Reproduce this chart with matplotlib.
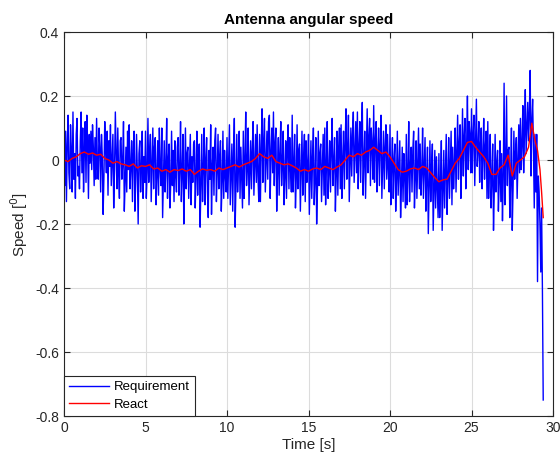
import numpy as np
import matplotlib
matplotlib.use("Agg")
import matplotlib.pyplot as plt

req_step = 0.05
req_cdeg = [
    2, -8, 9, -13, 5, 14, -4, -9, 11, 3, -10, 15, -6, 2, -12, 8, 13, -5, -2, -9,
    6, 15, -4, 10, -10, 3, 12, -7, 14, 5, -12, 8, -1, 9, -3, 11, 4, -8, 7, -6,
    13, -2, -6, 10, 4, -10, 8, 1, -17, -5, 12, 3, -4, 9, -11, 6, -2, 11, -8, 0,
    8, -15, -3, 15, 2, -9, 10, -4, -12, 6, 7, -6, -1, 12, -16, -7, 4, -10, 9, -3,
    11, -9, -2, 6, -13, 3, 9, -16, -6, 8, -4, -20, 2, 6, -10, -3, 9, -12, 1, -7,
    9, -12, -4, 13, -7, 2, 8, -13, -1, 10, -9, 4, 7, -14, -5, 6, -11, 10, -3, -8,
    10, -18, -6, 6, -10, -2, 13, -12, 0, 5, -15, -7, 9, -8, 3, -13, 6, -5, -10, 4,
    7, -11, -3, 12, -13, -4, 8, -20, -6, 10, -9, 2, 4, -12, -2, 8, -14, 1, -7, 5,
    6, -15, -5, 9, -11, 1, 5, -21, -8, 8, -13, -3, 10, -14, 0, 7, -10, -18, 3, -6,
    11, -17, -2, 4, -11, 6, 10, -13, -4, 8, -9, 1, 6, -16, -7, 9, -12, 3, -5, -10,
    7, -12, -1, 11, -14, -5, 5, -16, 2, 13, -21, -8, 8, -10, -3, 9, -12, 4, -6, -15,
    9, -12, 0, 15, -8, -2, 10, -14, -4, 6, -9, 3, 12, -11, -1, 8, -7, 11, -5, -13,
    8, -13, 4, 16, -7, 6, 13, -10, -1, 9, -6, 12, 14, -12, 2, 10, -4, 15, -8, 5,
    10, -16, -3, 7, -11, 2, 12, -8, -1, 9, -14, -5, 6, -12, 4, 11, -9, 7, -3, -10,
    14, -10, -2, 8, -15, -6, 11, -9, 3, 5, -16, -4, 9, -11, 1, 8, -13, 6, -7, -2,
    8, -17, -5, 6, -12, 1, 10, -14, -6, 7, -20, -9, 9, -8, 2, 5, -13, -3, 8, -11,
    10, -14, -2, 12, -12, -4, 6, -10, 3, 13, -8, -1, 7, -16, -5, 9, -11, 4, 10, -9,
    11, -12, 0, 9, -9, 5, 16, -6, 3, 14, -13, -2, 10, -5, 8, 15, -7, 2, 12, -4,
    15, -9, 4, 12, -7, 8, 18, -11, 0, 9, -12, 3, 16, -4, 7, 13, -8, 10, 5, -6,
    17, -7, 6, 12, -10, 2, 10, -8, 5, 14, -12, -1, 9, -9, 4, 11, -6, 8, -3, -10,
    11, -14, -2, 7, -12, 0, 5, -16, -6, 9, -11, -3, 6, -18, -8, 4, -13, 2, -5, -15,
    8, -14, -4, 12, -13, -2, 4, -10, 3, 9, -15, -6, 6, -12, -1, 10, -9, 5, -11, -4,
    10, -12, -3, 7, -16, -5, 4, -23, -9, 6, -13, -2, 5, -22, -10, 3, -15, 1, -8, -18,
    2, -18, -7, 6, -22, -10, 3, -15, -4, 8, -17, -6, 7, -12, -1, 9, -14, 4, -9, -2,
    10, -10, 2, 14, -6, 5, 11, -12, 0, 16, -5, 7, 13, -9, 4, 20, -3, 12, 8, -4,
    16, -4, 8, 14, -8, 6, 19, -2, 3, 12, -7, 5, 10, -9, 1, 13, -6, 4, 9, -12,
    12, -12, -3, 8, -15, -6, 5, -22, -9, 8, -10, -1, 3, -16, -7, 6, -13, 2, -19, -5,
    24, -14, -2, 20, -8, 3, 4, -18, -6, 10, -22, -9, 9, -6, 2, 7, -12, 0, 11, -4,
    13, -3, 5, 17, -4, 8, 22, 2, 10, 18, 6, 15, 28, -5, 12, 19, 4, -15, 8, -10,
    8, -38, -5, -10, -20, -35, -15, -40, -75,
]

# React speed (time in s, value in thousandths of a degree)
react_t = [0.0, 0.25, 0.5, 0.75, 1.0, 1.25, 1.5, 1.75, 2.0, 2.25, 2.5, 2.75,
           3.0, 3.25, 3.5, 3.75, 4.0, 4.25, 4.5, 4.75, 5.0, 5.25, 5.5, 5.75,
           6.0, 6.25, 6.5, 6.75, 7.0, 7.25, 7.5, 7.75, 8.0, 8.25, 8.5, 8.75,
           9.0, 9.25, 9.5, 9.75, 10.0, 10.25, 10.5, 10.75, 11.0, 11.25, 11.5, 11.75,
           12.0, 12.25, 12.5, 12.75, 13.0, 13.25, 13.5, 13.75, 14.0, 14.25, 14.5, 14.75,
           15.0, 15.25, 15.5, 15.75, 16.0, 16.25, 16.5, 16.75, 17.0, 17.25, 17.5, 17.75,
           18.0, 18.25, 18.5, 18.75, 19.0, 19.25, 19.5, 19.75, 20.0, 20.25, 20.5, 20.75,
           21.0, 21.25, 21.5, 21.75, 22.0, 22.25, 22.5, 22.75, 23.0, 23.25, 23.5, 23.75,
           24.0, 24.25, 24.5, 24.75, 25.0, 25.25, 25.5, 25.75, 26.0, 26.25, 26.5, 26.75,
           27.0, 27.25, 27.5, 27.75, 28.0, 28.25, 28.5, 28.7, 28.9, 29.05, 29.2, 29.3, 29.4]
react_m = [0, -5, 5, 10, 20, 25, 18, 22, 15, 18, 5, 0,
           -10, -5, -12, -15, -20, -12, -25, -18, -20, -15, -28, -25,
           -35, -30, -38, -30, -33, -28, -35, -30, -45, -35, -28, -32,
           -30, -35, -25, -30, -25, -20, -15, -22, -15, -10, -5, 5,
           20, 10, 5, 15, -5, -10, -15, -12, -18, -25, -35, -30,
           -35, -28, -25, -30, -20, -25, -30, -22, -15, 0, 15, 10,
           20, 15, 25, 30, 40, 30, 20, 25, 10, -10, -30, -38,
           -35, -28, -25, -30, -20, -25, -40, -55, -68, -62, -60, -35,
           -10, 5, 30, 55, 58, 40, 25, 10, -10, -45, -45, -25,
           -15, 15, -50, -10, 0, 10, 40, 115, 60, 30, -30, -100, -180]

req = np.array(req_cdeg) / 100.0
t_req = np.arange(len(req)) * req_step
react = np.array(react_m) / 1000.0

plt.rcParams['font.family'] = ['Liberation Sans', 'DejaVu Sans']

fig = plt.figure(figsize=(5.6, 4.63), dpi=100)
ax = fig.add_axes([64/560, 1-416/463, (553-64)/560, (416-32)/463])

ax.plot(t_req, req, color=(0, 0, 1), lw=1.0, label='Requirement')
ax.plot(react_t, react, color=(1, 0, 0), lw=1.0, label='React')

ax.set_xlim(0, 30)
ax.set_ylim(-0.8, 0.4)
ax.set_xticks([0, 5, 10, 15, 20, 25, 30])
ax.set_yticks([-0.8, -0.6, -0.4, -0.2, 0, 0.2, 0.4])
ax.set_yticklabels(['-0.8', '-0.6', '-0.4', '-0.2', '0', '0.2', '0.4'])
ax.grid(True, color='#dcdcdc', lw=0.8)
ax.set_axisbelow(True)
ax.tick_params(direction='in', top=True, right=True, length=4,
               labelsize=10, colors='#262626', width=0.8)
for s in ax.spines.values():
    s.set_color('#262626')
    s.set_linewidth(0.8)

ax.set_title('Antenna angular speed', fontsize=11, fontweight='bold', pad=6)
ax.set_xlabel('Time [s]', fontsize=11, color='#262626', labelpad=2)
ax.set_ylabel('Speed [$^0$]', fontsize=11, color='#262626', labelpad=4)

leg = ax.legend(loc='lower left', fancybox=False, framealpha=1, edgecolor='#262626',
                borderaxespad=0, fontsize=9.5, handlelength=3.0, borderpad=0.4,
                labelspacing=0.4, handletextpad=0.4)
leg.get_frame().set_linewidth(0.8)

fig.savefig('out.png', dpi=100)
